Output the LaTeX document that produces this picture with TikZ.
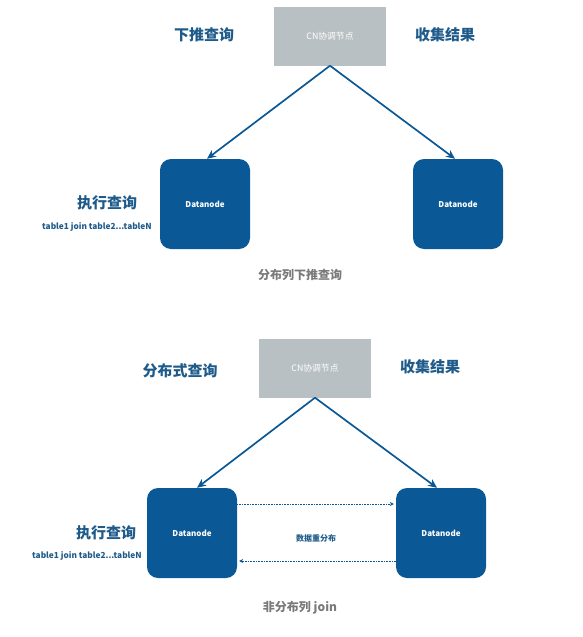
\documentclass[tikz,border=0pt]{standalone}
\usepackage{fontspec}
\setmainfont{Noto Sans CJK SC}
\usetikzlibrary{arrows.meta}
\definecolor{dnblue}{HTML}{0B5896}
\definecolor{txtblue}{HTML}{1F5B8A}
\definecolor{cngray}{HTML}{B9C0C3}
\definecolor{capgray}{HTML}{7A7A7A}
\begin{document}
\begin{tikzpicture}[x=1pt,y=-1pt,
    cnbox/.style={fill=cngray,minimum width=112pt,minimum height=59pt,text=white,font=\fontsize{8.8}{10}\selectfont},
    dnbox/.style={fill=dnblue,rounded corners=11pt,minimum size=90pt,text=white,font=\fontsize{8}{9}\selectfont\bfseries},
    biglabel/.style={text=txtblue,font=\fontsize{15}{18}\selectfont\bfseries},
    smalllabel/.style={text=txtblue,font=\fontsize{8.3}{10}\selectfont\bfseries},
    caption/.style={text=capgray,font=\fontsize{12}{14}\selectfont\bfseries},
    link/.style={draw=dnblue,line width=1.7pt,-{Stealth[length=9pt,width=8pt]}},
    shuffle/.style={draw=dnblue,densely dotted,line width=0.6pt,-{Stealth[length=4pt,width=4pt]}}]
    \useasboundingbox (0,0) rectangle (582,637);
    % distributed column pushdown
    \node[cnbox] (cnA) at (330,36) {CN协调节点};
    \node[dnbox] (dnA1) at (205,204) {Datanode};
    \node[dnbox] (dnA2) at (458,204) {Datanode};
    \node[biglabel] (pushA) at (204,35) {下推查询};
    \node[biglabel] (collectA) at (445,35) {收集结果};
    \node[biglabel] (execA) at (107,203) {执行查询};
    \node[smalllabel] (tblA) at (97,227) {table1 join table2...tableN};
    \node[caption] (capA) at (300,275) {分布列下推查询};
    \draw[link] (cnA.south) -- ([xshift=2pt]dnA1.north);
    \draw[link] (cnA.south) -- ([xshift=-3pt]dnA2.north);
    % non distributed column join
    \node[cnbox] (cnB) at (315,368) {CN协调节点};
    \node[dnbox] (dnB1) at (192,533) {Datanode};
    \node[dnbox] (dnB2) at (441,533) {Datanode};
    \node[biglabel] (pushB) at (180,371) {分布式查询};
    \node[biglabel] (collectB) at (430,367) {收集结果};
    \node[biglabel] (execB) at (106,533) {执行查询};
    \node[smalllabel] (tblB) at (87,556) {table1 join table2...tableN};
    \node[smalllabel,font=\fontsize{8}{9}\selectfont\bfseries] (redist) at (316,538) {数据重分布};
    \node[caption] (capB) at (300,608) {非分布列 join};
    \draw[link] (cnB.south) -- ([xshift=5pt]dnB1.north);
    \draw[link] (cnB.south) -- ([xshift=-4pt]dnB2.north);
    \draw[shuffle] ([yshift=29pt]dnB1.east) -- ([yshift=29pt,xshift=-2pt]dnB2.west);
    \draw[shuffle] ([yshift=-28pt]dnB2.west) -- ([yshift=-28pt,xshift=2pt]dnB1.east);
\end{tikzpicture}
\end{document}
